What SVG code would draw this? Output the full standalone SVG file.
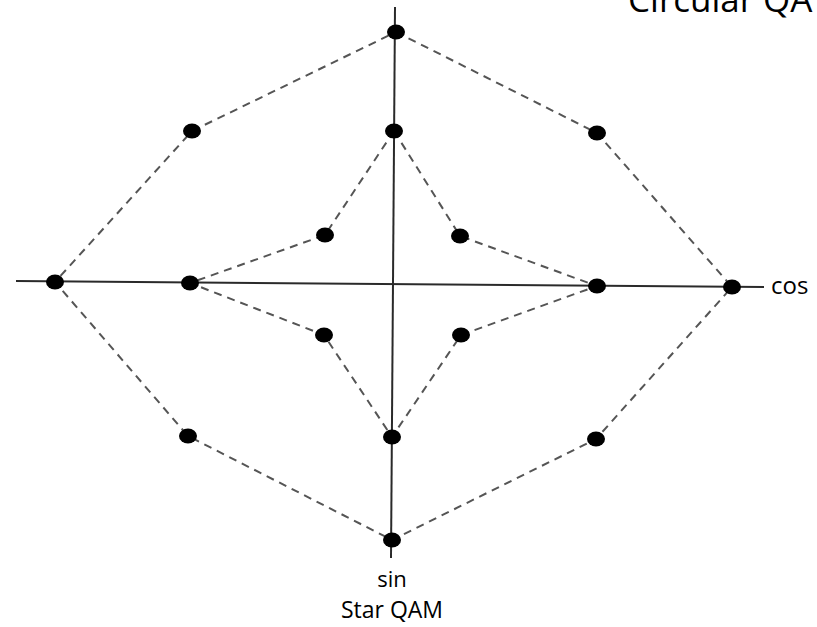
<svg xmlns="http://www.w3.org/2000/svg" width="817" height="627" viewBox="0 0 817 627">
<style>
.axis{stroke:#2a2a2a;stroke-width:2;fill:none}
.dash{stroke:#555;stroke-width:2;stroke-dasharray:8 6;fill:none}
.dot{fill:#000}
.lbl{font-family:"Open Sans","Liberation Sans",sans-serif;fill:#000}
</style>
<rect width="817" height="627" fill="#fff"/>
<g id="connectors">
<line class="axis" x1="16" y1="281" x2="764" y2="287"/>
<line class="axis" x1="395" y1="7" x2="391" y2="558"/>
<polygon class="dash" points="396,32 597,133 732,287 596,439 392,540 188,436 55,282 192,131"/>
<polygon class="dash" points="394,131 460,236 597,286 461,335 392,437 324,335 190,283 325,235"/>
</g>
<g id="outer-points">
<ellipse id="o1" class="dot" cx="396" cy="32" rx="9" ry="7.5"/>
<ellipse id="o2" class="dot" cx="597" cy="133" rx="9" ry="7.5"/>
<ellipse id="o3" class="dot" cx="732" cy="287" rx="9" ry="7.5"/>
<ellipse id="o4" class="dot" cx="596" cy="439" rx="9" ry="7.5"/>
<ellipse id="o5" class="dot" cx="392" cy="540" rx="9" ry="7.5"/>
<ellipse id="o6" class="dot" cx="188" cy="436" rx="9" ry="7.5"/>
<ellipse id="o7" class="dot" cx="55" cy="282" rx="9" ry="7.5"/>
<ellipse id="o8" class="dot" cx="192" cy="131" rx="9" ry="7.5"/>
</g>
<g id="inner-points">
<ellipse id="i1" class="dot" cx="394" cy="131" rx="9" ry="7.5"/>
<ellipse id="i2" class="dot" cx="460" cy="236" rx="9" ry="7.5"/>
<ellipse id="i3" class="dot" cx="597" cy="286" rx="9" ry="7.5"/>
<ellipse id="i4" class="dot" cx="461" cy="335" rx="9" ry="7.5"/>
<ellipse id="i5" class="dot" cx="392" cy="437" rx="9" ry="7.5"/>
<ellipse id="i6" class="dot" cx="324" cy="335" rx="9" ry="7.5"/>
<ellipse id="i7" class="dot" cx="190" cy="283" rx="9" ry="7.5"/>
<ellipse id="i8" class="dot" cx="325" cy="235" rx="9" ry="7.5"/>
</g>
<g id="labels">
<text id="circ" class="lbl" x="628" y="12" font-size="35">Circular QA</text>
<text id="cos" class="lbl" x="771" y="294" font-size="24">cos</text>
<text id="sin" class="lbl" x="392" y="587" font-size="22" text-anchor="middle">sin</text>
<text id="star" class="lbl" x="392" y="618" font-size="23" text-anchor="middle">Star QAM</text>
</g>
</svg>
